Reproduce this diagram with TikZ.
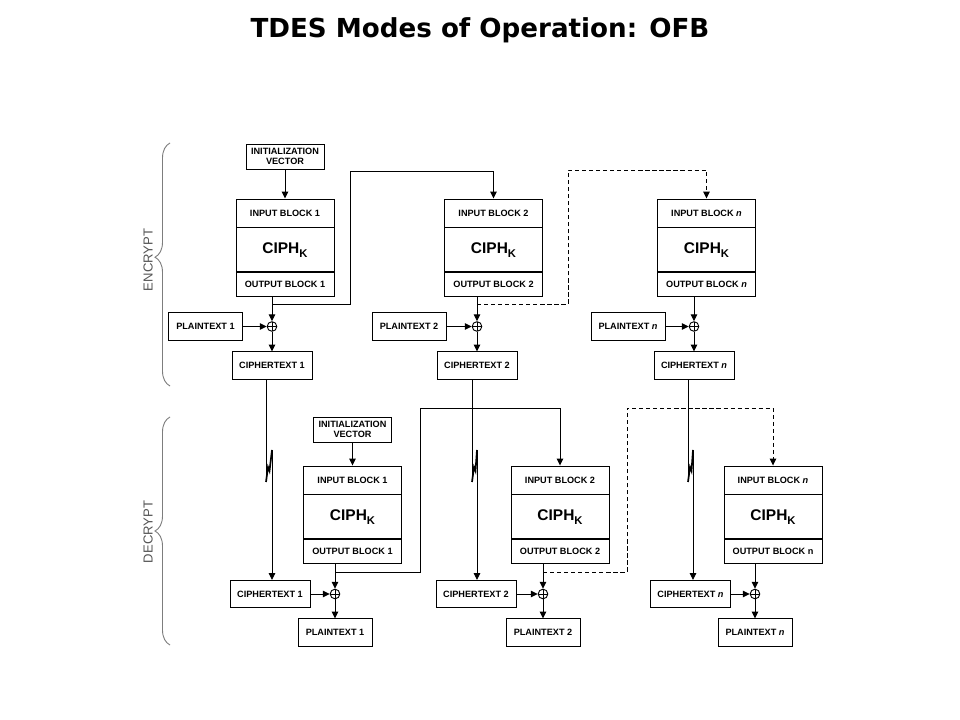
\documentclass[tikz,border=0pt]{standalone}
\usepackage{fontspec}
\setmainfont{Liberation Sans}
\newfontfamily\headfont{DejaVu Sans}
\usepackage{tikz}
\usetikzlibrary{arrows.meta,decorations.pathreplacing}
\definecolor{bracegray}{RGB}{125,125,125}
\definecolor{labelgray}{RGB}{85,85,85}
\newcommand{\ciphk}{CIPH\raisebox{-0.45ex}{\fontsize{8}{9}\selectfont K}}

\begin{document}
\begin{tikzpicture}[x=0.025cm, y=-0.025cm,
  box/.style={draw=black, line width=0.65pt, inner sep=0pt, align=center, font=\bfseries\fontsize{6.5}{7.5}\selectfont},
  inblock/.style={box, minimum width=2.45cm, minimum height=0.7cm},
  ciph/.style={box, minimum width=2.45cm, minimum height=1.1cm, font=\bfseries\fontsize{11}{13}\selectfont},
  outblock/.style={box, minimum width=2.45cm, minimum height=0.6cm},
  ivbox/.style={box, minimum width=1.95cm, minimum height=0.625cm},
  ptbox/.style={box, minimum width=1.85cm, minimum height=0.68cm},
  ctbox/.style={box, minimum width=2.0cm, minimum height=0.68cm},
  xor/.style={circle, draw=black, line width=0.65pt, inner sep=0pt, minimum size=0.24cm,
    path picture={\draw[line width=0.65pt] (path picture bounding box.north) -- (path picture bounding box.south)
      (path picture bounding box.west) -- (path picture bounding box.east);}},
  flow/.style={line width=0.65pt, -{Triangle[length=1.7mm,width=1.6mm]}},
  wire/.style={line width=0.65pt},
  zig/.style={line width=1.2pt},
  sidebrace/.style={decorate, decoration={brace, amplitude=0.375cm, aspect=#1}, draw=bracegray, line width=0.65pt},
  side/.style={rotate=90, text=labelgray, font=\fontsize{9.3}{11}\selectfont}
]
\useasboundingbox (0,0) rectangle (960,720);

\node[anchor=base, font=\headfont\bfseries\fontsize{18.6}{22}\selectfont](title) at (480,38) {TDES Modes of Operation: OFB};

% encrypt
\node[ivbox](iv) at (285,156.5) {INITIALIZATION\\VECTOR};

\node[inblock](ib1) at (285,213) {INPUT BLOCK 1};
\node[ciph, anchor=north](ck1) at (ib1.south) {\ciphk};
\node[outblock, anchor=north](ob1) at (ck1.south) {OUTPUT BLOCK 1};

\node[inblock](ib2) at (493.5,213) {INPUT BLOCK 2};
\node[ciph, anchor=north](ck2) at (ib2.south) {\ciphk};
\node[outblock, anchor=north](ob2) at (ck2.south) {OUTPUT BLOCK 2};

\node[inblock](ibn) at (706.5,213) {INPUT BLOCK \textit{n}};
\node[ciph, anchor=north](ckn) at (ibn.south) {\ciphk};
\node[outblock, anchor=north](obn) at (ckn.south) {OUTPUT BLOCK \textit{n}};

\node[xor](x1) at (272,326.5) {};
\node[xor](x2) at (477,326.5) {};
\node[xor](xn) at (694,326.5) {};

\node[ptbox](pt1) at (205.5,326.5) {PLAINTEXT 1};
\node[ptbox](pt2) at (409,326.5) {PLAINTEXT 2};
\node[ptbox](ptn) at (628,326.5) {PLAINTEXT \textit{n}};

\node[ctbox](ct1) at (272,365.5) {CIPHERTEXT 1};
\node[ctbox](ct2) at (477,365.5) {CIPHERTEXT 2};
\node[ctbox](ctn) at (694,365.5) {CIPHERTEXT \textit{n}};

\draw[flow] (iv) -- (ib1);
\draw[flow] (x1 |- ob1.south) -- (x1);
\draw[flow] (x2 |- ob2.south) -- (x2);
\draw[flow] (xn |- obn.south) -- (xn);
\draw[flow] (pt1) -- (x1);
\draw[flow] (pt2) -- (x2);
\draw[flow] (ptn) -- (xn);
\draw[flow] (x1) -- (ct1);
\draw[flow] (x2) -- (ct2);
\draw[flow] (xn) -- (ctn);

\coordinate (j1) at (272,304);
\coordinate (k1) at (350,171);
\draw[flow] (j1) -| (k1) -| (ib2.north);
\coordinate (j2) at (477,304);
\coordinate (k2) at (568,170);
\draw[flow, dash pattern=on 3pt off 2pt] (j2) -| (k2) -| (ibn.north);

% decrypt
\node[ivbox](ivd) at (352.5,429.5) {INITIALIZATION\\VECTOR};

\node[inblock](dib1) at (352.5,480) {INPUT BLOCK 1};
\node[ciph, anchor=north](dck1) at (dib1.south) {\ciphk};
\node[outblock, anchor=north](dob1) at (dck1.south) {OUTPUT BLOCK 1};

\node[inblock](dib2) at (560,480) {INPUT BLOCK 2};
\node[ciph, anchor=north](dck2) at (dib2.south) {\ciphk};
\node[outblock, anchor=north](dob2) at (dck2.south) {OUTPUT BLOCK 2};

\node[inblock](dibn) at (773,480) {INPUT BLOCK \textit{n}};
\node[ciph, anchor=north](dckn) at (dibn.south) {\ciphk};
\node[outblock, anchor=north](dobn) at (dckn.south) {OUTPUT BLOCK n};

\node[xor](dx1) at (335,594) {};
\node[xor](dx2) at (543,594) {};
\node[xor](dxn) at (755,594) {};

\node[ctbox](dct1) at (270,594) {CIPHERTEXT 1};
\node[ctbox](dct2) at (476,594) {CIPHERTEXT 2};
\node[ctbox](dctn) at (690.5,594) {CIPHERTEXT \textit{n}};

\node[ptbox](dpt1) at (335,632.5) {PLAINTEXT 1};
\node[ptbox](dpt2) at (543,632.5) {PLAINTEXT 2};
\node[ptbox](dptn) at (755,632.5) {PLAINTEXT \textit{n}};

\draw[flow] (ivd) -- (dib1);
\draw[flow] (dx1 |- dob1.south) -- (dx1);
\draw[flow] (dx2 |- dob2.south) -- (dx2);
\draw[flow] (dxn |- dobn.south) -- (dxn);
\draw[flow] (dct1) -- (dx1);
\draw[flow] (dct2) -- (dx2);
\draw[flow] (dctn) -- (dxn);
\draw[flow] (dx1) -- (dpt1);
\draw[flow] (dx2) -- (dpt2);
\draw[flow] (dxn) -- (dptn);

\coordinate (j3) at (335,572);
\coordinate (k3) at (420,408);
\draw[flow] (j3) -| (k3) -| (dib2.north);
\coordinate (j4) at (543,572);
\coordinate (k4) at (627,408);
\draw[flow, dash pattern=on 3pt off 2pt] (j4) -| (k4) -| (dibn.north);

% channel breaks
\coordinate (z1a) at (266,482);
\coordinate (z1b) at (272,450);
\draw[wire] (z1a |- ct1.south) -- (z1a);
\draw[zig] (z1a) -- ++(2,-15) -- ++(1.5,4) -- (z1b);
\draw[flow] (z1b) -- (z1b |- dct1.north);

\coordinate (z2a) at (472,482);
\coordinate (z2b) at (477,450);
\draw[wire] (z2a |- ct2.south) -- (z2a);
\draw[zig] (z2a) -- ++(2,-15) -- ++(1.5,4) -- (z2b);
\draw[flow] (z2b) -- (z2b |- dct2.north);

\coordinate (z3a) at (688,482);
\coordinate (z3b) at (693,450);
\draw[wire] (z3a |- ctn.south) -- (z3a);
\draw[zig] (z3a) -- ++(2,-15) -- ++(1.5,4) -- (z3b);
\draw[flow] (z3b) -- (z3b |- dctn.north);

% braces
\draw[sidebrace=0.53] (170,386) -- (170,143);
\node[side](enc) at (148,260) {ENCRYPT};
\draw[sidebrace=0.5] (170,645) -- (170,417);
\node[side](dec) at (148,532) {DECRYPT};
\end{tikzpicture}
\end{document}
